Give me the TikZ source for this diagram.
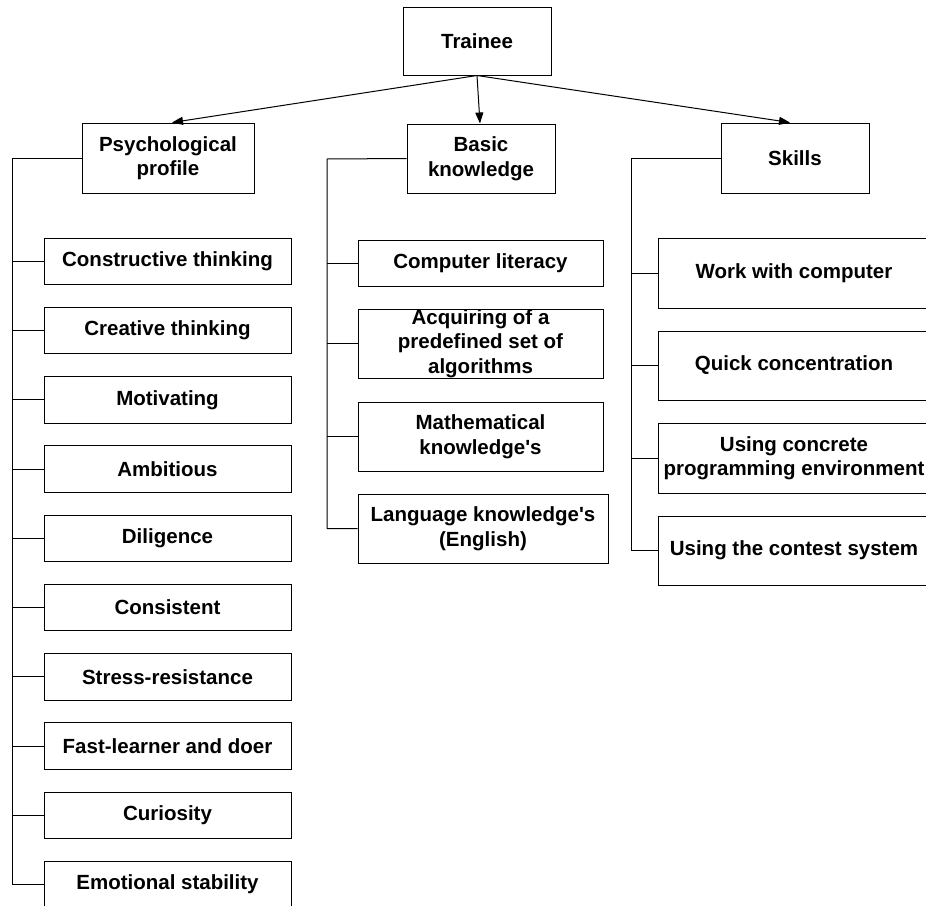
\documentclass[tikz,border=0pt]{standalone}
\usepackage{fontspec}
\setmainfont{Liberation Sans}
\usetikzlibrary{arrows.meta}
\begin{document}
\begin{tikzpicture}[x=1pt,y=-1pt,
  box/.style={draw, line width=1pt, inner sep=0pt, align=center,
    font=\fontsize{20.5}{24.5}\selectfont\bfseries},
  line/.style={line width=1pt},
  arr/.style={line width=1pt, -{Triangle[length=11pt,width=8pt]}}]
\clip (0,0) rectangle (926,905);
\fill[white] (0,0) rectangle (926,905);
% top level
\node[box, minimum width=148pt, minimum height=68pt] (tr) at (477,41) {Trainee};
\node[box, minimum width=172pt, minimum height=70pt] (pp) at (168,158) {Psychological\\profile};
\node[box, minimum width=148pt, minimum height=69pt] (bk) at (481,158.5) {Basic\\knowledge};
\node[box, minimum width=148pt, minimum height=70pt] (sk) at (795,158) {Skills};
\draw[arr] (tr.south) -- ([xshift=4pt]pp.north);
\draw[arr] (tr.south) -- ([xshift=-1pt]bk.north);
\draw[arr] (tr.south) -- ([xshift=-5pt]sk.north);
% psychological profile children
\foreach \i/\t in {0/Constructive thinking,1/Creative thinking,2/Motivating,3/Ambitious,4/Diligence,5/Consistent,6/Stress-resistance,7/Fast-learner and doer,8/Curiosity,9/Emotional stability}{
  \node[box, minimum width=247pt, minimum height=46.5pt] (p\i) at (167.5,261.25+69.25*\i) {\t};
}
\coordinate (pv) at (12,158);
\draw[line] (pp.west) -- (pv) |- (p9.west);
\foreach \i in {0,...,8}{\draw[line] (p\i.west) -- (p\i.west -| pv);}
% basic knowledge children
\node[box, minimum width=245pt, minimum height=46pt] (b0) at (480.5,263) {Computer literacy};
\node[box, minimum width=245pt, minimum height=69pt] (b1) at (480.5,343.5) {Acquiring of a\\predefined set of\\algorithms};
\node[box, minimum width=245pt, minimum height=69pt] (b2) at (480.5,436.5) {Mathematical\\knowledge\textquotesingle s};
\node[box, minimum width=250pt, minimum height=69pt] (b3) at (483,528.5) {Language knowledge\textquotesingle s\\(English)};
\coordinate (bv) at (327,159);
\draw[line] (bk.west) -- (bv) |- (b3.west);
\foreach \i in {0,1,2}{\draw[line] (b\i.west) -- (b\i.west -| bv);}
% skills children
\node[box, minimum width=272pt, minimum height=70pt] (s0) at (794,273) {Work with computer};
\node[box, minimum width=272pt, minimum height=69pt] (s1) at (794,365.5) {Quick concentration};
\node[box, minimum width=272pt, minimum height=70pt] (s2) at (794,458) {Using concrete\\programming environment};
\node[box, minimum width=272pt, minimum height=69pt] (s3) at (794,550.5) {Using the contest system};
\coordinate (sv) at (631,158);
\draw[line] (sk.west) -- (sv) |- (s3.west);
\foreach \i in {0,1,2}{\draw[line] (s\i.west) -- (s\i.west -| sv);}
\end{tikzpicture}
\end{document}
